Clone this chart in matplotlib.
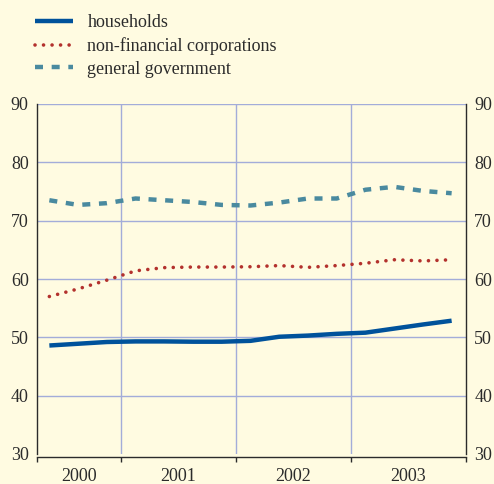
import matplotlib
matplotlib.use("Agg")
import matplotlib.pyplot as plt
from matplotlib.ticker import FixedLocator, NullFormatter, FixedFormatter

quarters = ["2000Q2", "2000Q3", "2000Q4", "2001Q1", "2001Q2", "2001Q3", "2001Q4",
            "2002Q1", "2002Q2", "2002Q3", "2002Q4", "2003Q1", "2003Q2", "2003Q3", "2003Q4"]
households = [48.6, 48.9, 49.2, 49.3, 49.3, 49.25, 49.25, 49.4, 50.1, 50.3, 50.6, 50.8, 51.5, 52.2, 52.85]
non_financial = [57.0, 58.3, 59.8, 61.4, 61.95, 62.05, 62.05, 62.1, 62.3, 62.0, 62.3, 62.7, 63.3, 63.1, 63.3]
government = [73.5, 72.7, 73.0, 73.8, 73.5, 73.2, 72.7, 72.6, 73.1, 73.8, 73.8, 75.3, 75.8, 75.1, 74.7]
years = ["2000", "2001", "2002", "2003"]
yticks = [30, 40, 50, 60, 70, 80, 90]

BG = "#fffbe1"
GRID = "#a3acd9"
TXT = "#2b2b2b"
FS = 13

plt.rcParams["font.family"] = ["Liberation Serif", "DejaVu Serif"]

fig = plt.figure(figsize=(4.94, 4.84), dpi=100, facecolor=BG)
ax = fig.add_axes([37/494, 30/484, (466-37)/494, (454-104)/484], facecolor=BG)

x = list(range(len(quarters)))
xl, xr = -0.43, 14.5
ax.set_xlim(xl, xr)
ax.set_ylim(30, 90)

# grid
for v in yticks[1:]:
    ax.axhline(v, color=GRID, lw=1.0, zorder=1)
bounds = [2.5, 6.5, 10.5]
for b in bounds:
    ax.axvline(b, color=GRID, lw=1.0, zorder=1)

l1, = ax.plot(x, households, color="#00529b", lw=3.2, solid_capstyle="butt", zorder=3,
              label="households")
l2, = ax.plot(x, non_financial, color="#b3312d", lw=2.6, linestyle=(0, (0.01, 2.35)),
              dash_capstyle="round", zorder=3, label="non-financial corporations")
l3, = ax.plot(x, government, color="#4a8a9f", lw=3.2, linestyle=(0, (1.8, 1.95)),
              dash_capstyle="butt", zorder=3, label="general government")

# spines
for s in ["left", "right", "bottom"]:
    ax.spines[s].set_color(TXT)
    ax.spines[s].set_linewidth(1.0)
ax.spines["top"].set_visible(False)
ax.spines["bottom"].set_position(("outward", 2))

# y ticks left & right
ax.set_yticks(yticks)
ax.tick_params(axis="y", which="both", left=True, right=True, labelleft=True, labelright=True,
               length=0, labelsize=FS, labelcolor=TXT, pad=6)

# x ticks: boundaries (major), year labels (minor)
ax.xaxis.set_major_locator(FixedLocator([xl] + bounds + [xr]))
ax.xaxis.set_major_formatter(NullFormatter())
centers = [(xl + 2.5) / 2, 4.5, 8.5, 12.5]
ax.xaxis.set_minor_locator(FixedLocator(centers))
ax.xaxis.set_minor_formatter(FixedFormatter(years))
ax.tick_params(axis="x", which="major", direction="out", length=3.5, width=1.0, color=TXT)
ax.tick_params(axis="x", which="minor", length=0, labelsize=FS, labelcolor=TXT, pad=8)

leg = fig.legend(handles=[l1, l2, l3], loc="upper left",
                 bbox_to_anchor=(35/494, 1 - 14/484), frameon=False,
                 fontsize=FS, handlelength=2.1, handletextpad=0.8,
                 labelspacing=0.33, borderpad=0, borderaxespad=0)
for t in leg.get_texts():
    t.set_color(TXT)

fig.savefig("out.png", dpi=100, facecolor=BG)
